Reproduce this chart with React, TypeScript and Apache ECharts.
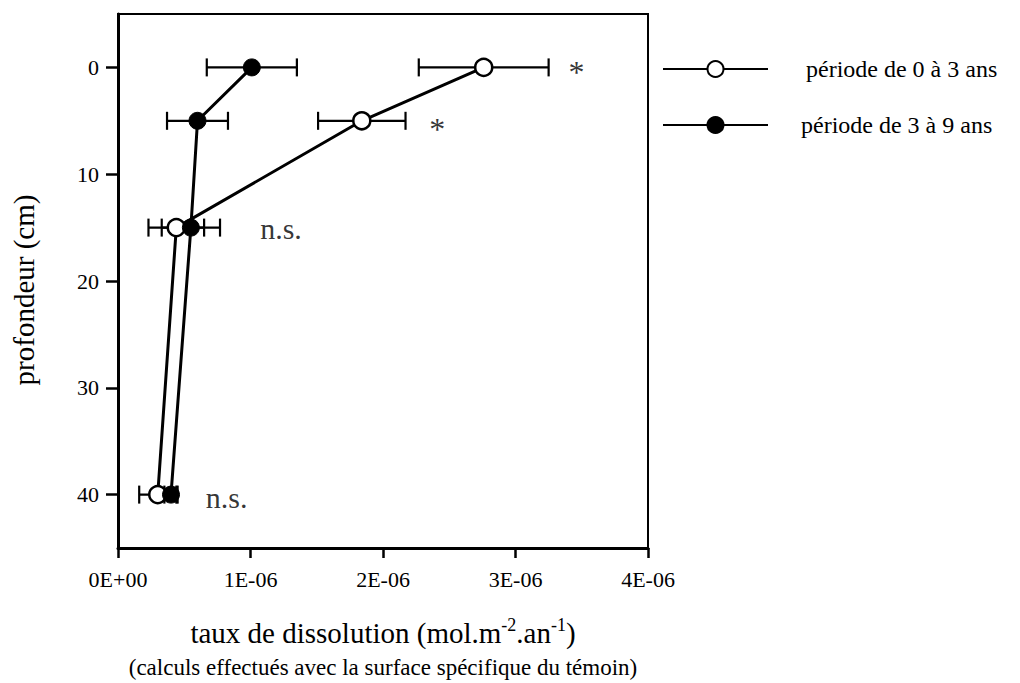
import React, { useEffect, useRef } from "react";
import * as echarts from "echarts";

const depths = [0, 5, 15, 40];
const rate03 = [2.76e-6, 1.84e-6, 0.44e-6, 0.3e-6];
const err03 = [0.49e-6, 0.33e-6, 0.21e-6, 0.14e-6];
const rate39 = [1.01e-6, 0.6e-6, 0.55e-6, 0.4e-6];
const err39 = [0.34e-6, 0.23e-6, 0.22e-6, 0.05e-6];
const depthTicks = [0, 10, 20, 30, 40];
const seriesNames = ["période de 0 à 3 ans", "période de 3 à 9 ans"];
const annotations = [
  { x: 3.46e-6, y: 0.4, text: "*", size: 32 },
  { x: 2.41e-6, y: 5.8, text: "*", size: 32 },
  { x: 1.23e-6, y: 15.1, text: "n.s.", size: 30 },
  { x: 0.82e-6, y: 40.3, text: "n.s.", size: 30 },
];

const FONT = "Liberation Serif";

function errorData(rate: number[], err: number[]) {
  return depths.map((d, i) => [rate[i] - err[i], rate[i] + err[i], d]);
}

function renderErrorBar(params: any, api: any) {
  const lo = api.coord([api.value(0), api.value(2)]);
  const hi = api.coord([api.value(1), api.value(2)]);
  const h = 9;
  const style = { stroke: "#000", lineWidth: 2.2 };
  return {
    type: "group",
    children: [
      { type: "line", shape: { x1: lo[0], y1: lo[1], x2: hi[0], y2: hi[1] }, style },
      { type: "line", shape: { x1: lo[0], y1: lo[1] - h, x2: lo[0], y2: lo[1] + h }, style },
      { type: "line", shape: { x1: hi[0], y1: hi[1] - h, x2: hi[0], y2: hi[1] + h }, style },
    ],
  };
}

export default function App() {
  const ref = useRef<HTMLDivElement>(null);
  useEffect(() => {
    if (!ref.current) return;
    document.body.style.margin = "0";
    const chart = echarts.init(ref.current, null, { renderer: "svg" });
    chart.setOption({
      animation: false,
      grid: {
        left: 118,
        right: 372,
        top: 14,
        bottom: 135,
        show: true,
        borderColor: "#000",
        borderWidth: 2,
        backgroundColor: "transparent",
      },
      legend: {
        orient: "vertical",
        left: 662,
        top: 57,
        padding: 0,
        itemWidth: 105,
        itemHeight: 20,
        itemGap: 32,
        selectedMode: false,
        data: [
          { name: seriesNames[0], textStyle: { padding: [0, 0, 0, 33], fontFamily: FONT } },
          { name: seriesNames[1], textStyle: { padding: [0, 0, 0, 28], fontFamily: FONT } },
        ],
        textStyle: { fontFamily: FONT, fontSize: 24, color: "#000" },
      },
      xAxis: {
        type: "value",
        min: 0,
        max: 4e-6,
        interval: 1e-6,
        splitLine: { show: false },
        axisLine: { show: true, onZero: false, lineStyle: { color: "#000", width: 3 } },
        axisTick: { show: true, length: 10, lineStyle: { color: "#000", width: 2.5 } },
        axisLabel: {
          margin: 20,
          fontFamily: FONT,
          fontSize: 22,
          color: "#000",
          formatter: (v: number) =>
            v === 0 ? "0E+00" : `${Math.round(v * 1e6)}E-06`,
        },
        name: "{a|taux de dissolution (mol.m}{s|-2}{a|.an}{s|-1}{a|)}",
        nameLocation: "middle",
        nameGap: 68,
        nameTextStyle: {
          fontFamily: FONT,
          rich: {
            a: { fontFamily: FONT, fontSize: 29, lineHeight: 34, color: "#000" },
            s: {
              fontFamily: FONT,
              fontSize: 18,
              lineHeight: 20,
              verticalAlign: "top",
              color: "#000",
            },
          },
        },
      },
      yAxis: {
        type: "value",
        inverse: true,
        min: -5,
        max: 45,
        interval: 5,
        splitLine: { show: false },
        axisLine: { show: true, onZero: false, lineStyle: { color: "#000", width: 3 } },
        axisTick: {
          show: true,
          length: 12,
          lineStyle: { color: "#000", width: 2.5 },
          customValues: depthTicks,
        },
        axisLabel: {
          margin: 19,
          fontFamily: FONT,
          fontSize: 22,
          color: "#000",
          customValues: depthTicks,
        },
        name: "profondeur (cm)",
        nameLocation: "middle",
        nameGap: 80,
        nameTextStyle: {
          fontFamily: FONT,
          fontSize: 29,
          color: "#000",
          padding: [0, 18, 0, 0],
        },
      },
      series: [
        {
          type: "custom",
          name: "err03",
          renderItem: renderErrorBar,
          data: errorData(rate03, err03),
          encode: { x: [0, 1], y: 2 },
          z: 1,
          silent: true,
        },
        {
          type: "custom",
          name: "err39",
          renderItem: renderErrorBar,
          data: errorData(rate39, err39),
          encode: { x: [0, 1], y: 2 },
          z: 1,
          silent: true,
        },
        {
          type: "line",
          name: seriesNames[0],
          data: depths.map((d, i) => [rate03[i], d]),
          symbol: "circle",
          symbolSize: 17,
          showAllSymbol: true,
          lineStyle: { color: "#000", width: 3 },
          itemStyle: { color: "#fff", borderColor: "#000", borderWidth: 2.5 },
          z: 3,
        },
        {
          type: "line",
          name: seriesNames[1],
          data: depths.map((d, i) => [rate39[i], d]),
          symbol: "circle",
          symbolSize: 17,
          showAllSymbol: true,
          lineStyle: { color: "#000", width: 3 },
          itemStyle: { color: "#000", borderColor: "#000", borderWidth: 1 },
          z: 4,
        },
        {
          type: "scatter",
          name: "annotations",
          silent: true,
          symbolSize: 0,
          itemStyle: { color: "#000" },
          data: annotations.map((a) => ({
            value: [a.x, a.y],
            name: a.text,
            label: { fontSize: a.size },
          })),
          label: {
            show: true,
            position: [0, 0],
            align: "center",
            verticalAlign: "middle",
            formatter: "{b}",
            fontFamily: FONT,
            color: "#000",
            textBorderWidth: 0,
          },
          z: 5,
        },
      ],
      graphic: [
        {
          type: "text",
          x: 383,
          y: 667,
          style: {
            text: "(calculs effectués avec la surface spécifique du témoin)",
            fontFamily: FONT,
            fontSize: 23,
            fill: "#000",
            align: "center",
            verticalAlign: "middle",
          },
        },
      ],
    });
    return () => chart.dispose();
  }, []);
  return (
    <div
      ref={ref}
      style={{
        position: "fixed",
        left: 0,
        top: 0,
        width: 1020,
        height: 683,
        background: "#fff",
        fontFamily: "Liberation Serif",
      }}
    />
  );
}
